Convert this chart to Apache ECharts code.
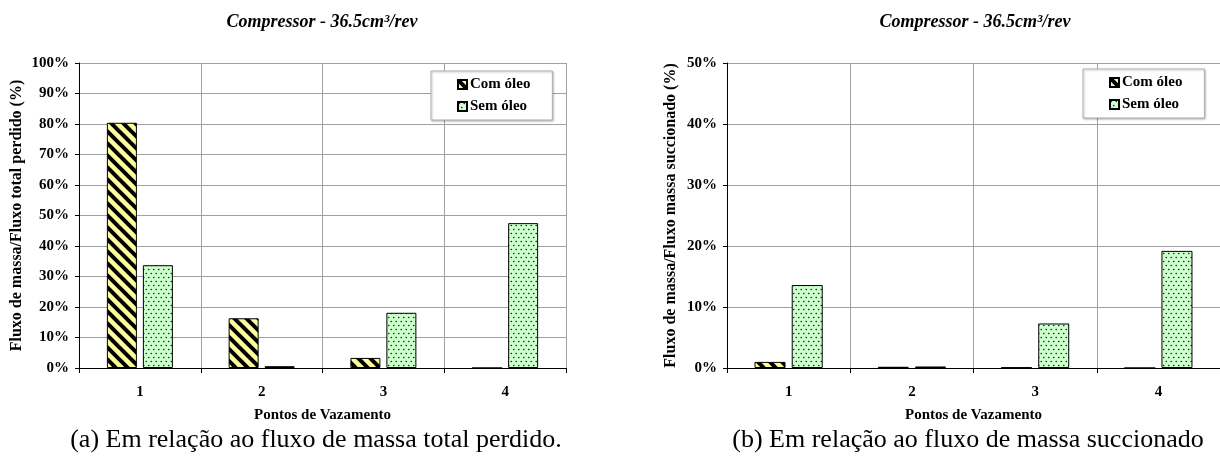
<!DOCTYPE html>
<html>
<head>
<meta charset="utf-8">
<script src="https://cdn.jsdelivr.net/npm/echarts@6/dist/echarts.min.js"></script>
<style>
  html, body { margin: 0; padding: 0; background: #fff; }
  #box { width: 1220px; height: 462px; }
</style>
</head>
<body>
<div id="box"></div>
<script>
var categories = ['1', '2', '3', '4'];
// (a) % do fluxo total perdido
var comOleoTotal = [80.4, 16.3, 3.3, 0];
var semOleoTotal = [33.7, 0.6, 18.1, 47.5];
// (b) % do fluxo succionado
var comOleoSucc = [1.0, 0.2, 0.1, 0];
var semOleoSucc = [13.6, 0.25, 7.3, 19.2];

var serif = "'Liberation Serif', 'Times New Roman', serif";

// hachura preta diagonal sobre amarelo
function stripeTile() {
  var n = 12;
  var c = document.createElement('canvas');
  c.width = n; c.height = n;
  var g = c.getContext('2d');
  g.fillStyle = '#ffff99';
  g.fillRect(0, 0, n, n);
  g.strokeStyle = '#000';
  g.lineWidth = 4;
  for (var k = -1; k <= 1; k++) {
    g.beginPath();
    g.moveTo(-2, -2 + n * k);
    g.lineTo(n + 2, n + 2 + n * k);
    g.stroke();
  }
  return c;
}

// pontinhos sobre verde claro
function dotTile() {
  var c = document.createElement('canvas');
  c.width = 5; c.height = 8;
  var g = c.getContext('2d');
  g.fillStyle = '#ccffcc';
  g.fillRect(0, 0, 5, 8);
  g.fillStyle = '#222';
  g.beginPath(); g.arc(1.25, 1.5, 0.8, 0, Math.PI * 2); g.fill();
  g.beginPath(); g.arc(3.75, 5.5, 0.8, 0, Math.PI * 2); g.fill();
  return c;
}

var comStyle = { color: { image: stripeTile(), repeat: 'repeat' }, borderColor: '#000', borderWidth: 1 };
var semStyle = { color: { image: dotTile(), repeat: 'repeat' }, borderColor: '#000', borderWidth: 1 };

var chart = echarts.init(document.getElementById('box'));

function xAxisFor(i) {
  return {
    gridIndex: i,
    type: 'category',
    data: categories,
    name: 'Pontos de Vazamento',
    nameLocation: 'middle',
    nameGap: 40,
    nameTextStyle: { fontFamily: serif, fontWeight: 'bold', fontSize: 15, color: '#000' },
    axisLine: { lineStyle: { color: '#000', width: 1 } },
    axisTick: { show: true, length: 5, lineStyle: { color: '#000' } },
    axisLabel: { fontFamily: serif, fontWeight: 'bold', fontSize: 15, color: '#000', margin: 17 },
    splitLine: { show: true, interval: 0, lineStyle: { color: '#a0a0a0', width: 1 } }
  };
}

function yAxisFor(i, max, name, gap) {
  return {
    gridIndex: i,
    type: 'value',
    min: 0,
    max: max,
    interval: 10,
    name: name,
    nameLocation: 'middle',
    nameGap: gap,
    nameTextStyle: { fontFamily: serif, fontWeight: 'bold', fontSize: 16, color: '#000' },
    axisLine: { show: true, lineStyle: { color: '#000', width: 1 } },
    axisTick: { show: true, length: 4, lineStyle: { color: '#000' } },
    axisLabel: { fontFamily: serif, fontWeight: 'bold', fontSize: 15, color: '#000', margin: 10, formatter: '{value}%' },
    splitLine: { show: true, lineStyle: { color: '#a0a0a0', width: 1 } }
  };
}

function legendFor(left, top) {
  return {
    left: left,
    top: top,
    orient: 'vertical',
    data: ['Com óleo', 'Sem óleo'],
    backgroundColor: '#fff',
    borderColor: '#b0b0b0',
    borderWidth: 1,
    shadowColor: 'rgba(0,0,0,0.25)',
    shadowBlur: 2,
    shadowOffsetX: 1,
    shadowOffsetY: 1,
    padding: [6, 22, 6, 26],
    itemWidth: 9,
    itemHeight: 9,
    itemGap: 7,
    icon: 'rect',
    selectedMode: false,
    textStyle: { fontFamily: serif, fontWeight: 'bold', fontSize: 15, color: '#000', padding: [0, 0, 0, -2] }
  };
}

var titleStyle = { fontFamily: serif, fontStyle: 'italic', fontWeight: 'bold', fontSize: 18, color: '#000' };
var captionStyle = { fontFamily: serif, fontWeight: 'normal', fontSize: 26, color: '#000' };

var option = {
  animation: false,
  backgroundColor: '#fff',
  title: [
    { text: 'Compressor - 36.5cm³/rev', left: 322, top: 13, textAlign: 'center', padding: 0, textStyle: titleStyle },
    { text: 'Compressor - 36.5cm³/rev', left: 975, top: 13, textAlign: 'center', padding: 0, textStyle: titleStyle },
    { text: '(a) Em relação ao fluxo de massa total perdido.', left: 316, top: 427, textAlign: 'center', padding: 0, textStyle: captionStyle },
    { text: '(b) Em relação ao fluxo de massa succionado', left: 968, top: 427, textAlign: 'center', padding: 0, textStyle: captionStyle }
  ],
  legend: [legendFor(431, 71), legendFor(1083, 69)],
  grid: [
    { left: 79, top: 63, width: 487, height: 305 },
    { left: 727, top: 63, width: 496, height: 305 }
  ],
  xAxis: [xAxisFor(0), xAxisFor(1)],
  yAxis: [
    yAxisFor(0, 100, 'Fluxo de massa/Fluxo total perdido (%)', 54),
    yAxisFor(1, 50, 'Fluxo de massa/Fluxo massa succionado (%)', 48)
  ],
  series: [
    { name: 'Com óleo', type: 'bar', xAxisIndex: 0, yAxisIndex: 0, barWidth: 30, barGap: '20%', itemStyle: comStyle, data: comOleoTotal },
    { name: 'Sem óleo', type: 'bar', xAxisIndex: 0, yAxisIndex: 0, barWidth: 30, barGap: '20%', itemStyle: semStyle, data: semOleoTotal },
    { name: 'Com óleo', type: 'bar', xAxisIndex: 1, yAxisIndex: 1, barWidth: 31, barGap: '20%', itemStyle: comStyle, data: comOleoSucc },
    { name: 'Sem óleo', type: 'bar', xAxisIndex: 1, yAxisIndex: 1, barWidth: 31, barGap: '20%', itemStyle: semStyle, data: semOleoSucc }
  ]
};

chart.setOption(option);
</script>
</body>
</html>
